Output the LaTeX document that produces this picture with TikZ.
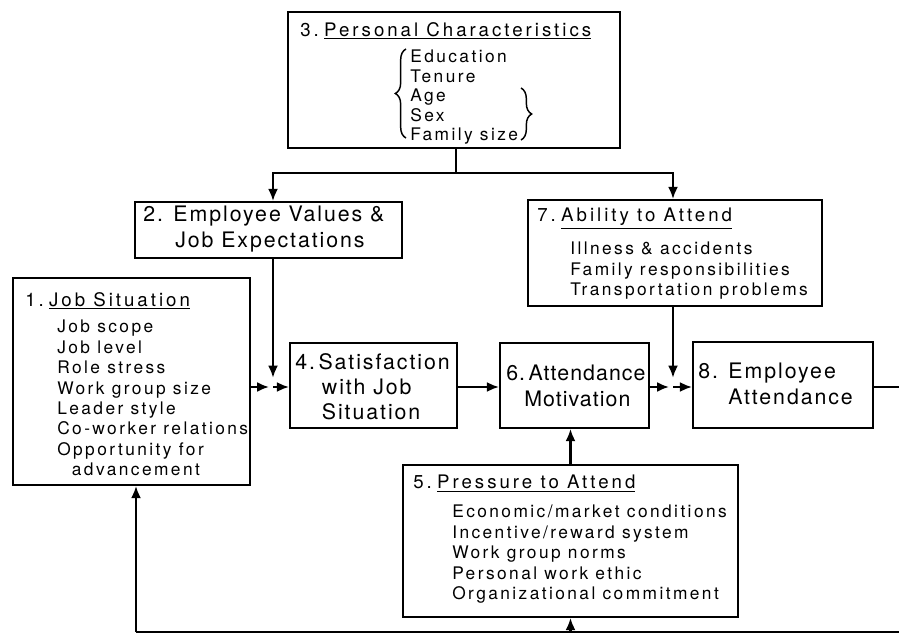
\documentclass[tikz,border=0pt]{standalone}
\usepackage{fontspec}
\setmainfont{TeX Gyre Heros}
\newfontfamily\headfont[LetterSpace=16]{TeX Gyre Heros}
\newfontfamily\listfont[LetterSpace=14]{TeX Gyre Heros}
\newfontfamily\boxfont[LetterSpace=9]{TeX Gyre Heros}
\newfontfamily\tightfont[LetterSpace=5]{TeX Gyre Heros}
\usetikzlibrary{arrows.meta,fit,decorations.pathreplacing}

\newcommand{\numgap}{\hspace{4pt}}

\tikzset{
    frame/.style = {draw=black, line width=1.6pt, inner sep=0pt},
    headtext/.style = {anchor=north west, inner sep=0pt, font=\headfont\fontsize{14}{17}\selectfont},
    listtext/.style = {anchor=north west, inner sep=0pt, align=left, font=\listfont\fontsize{13}{15.3}\selectfont},
    boxtext/.style = {anchor=north west, inner sep=0pt, align=left, font=\boxfont\fontsize{16}{19}\selectfont},
    wire/.style = {line width=1.6pt},
    link/.style = {wire, -{Latex[length=9pt,width=7.5pt]}},
    curly/.style = {line width=1.1pt, decorate, decoration={brace, amplitude=8pt}}
}

\begin{document}
\begin{tikzpicture}[x=0.75pt, y=-0.75pt]
        \useasboundingbox (0,0) rectangle (899,634);
        % NODES
        % node 3: personal characteristics
        \node[frame, fit={(288,12) (620,148)}] (PC) {};
        \node[headtext] (PCt) at (300,22) {3.\numgap\underline{Personal Characteristics}};
        \node[listtext, font=\listfont\fontsize{13}{14.6}\selectfont] (PCl) at (410,50) {Education\\Tenure\\Age\\Sex\\Family size};
        % node 2: employee values
        \node[frame, fit={(135,202) (402,258)}] (EV) {};
        \node[boxtext] (EVt) at (143,206) {2. Employee Values \&\\\hspace*{24pt}Job Expectations};
        % node 7: ability to attend
        \node[frame, fit={(528,200) (822,306)}] (AA) {};
        \node[headtext] (AAt) at (537,208) {7.\numgap\underline{Ability to Attend}};
        \node[listtext] (AAl) at (570,242) {Illness \& accidents\\Family responsibilities\\Transportation problems};
        % node 1: job situation
        \node[frame, fit={(13,278) (250,485)}] (JS) {};
        \node[headtext] (JSt) at (25,292) {1.\numgap\underline{Job Situation}};
        \node[listtext] (JSl) at (57,320) {Job scope\\Job level\\Role stress\\Work group size\\Leader style\\Co-worker relations\\Opportunity for\\\hspace*{11pt}advancement};
        % node 4: satisfaction
        \node[frame, fit={(290,343) (457,428)}] (SJ) {};
        \node[boxtext] (SJt) at (295,353) {4.\,Satisfaction\\\hspace*{20pt}with Job\\\hspace*{20pt}Situation};
        % node 6: attendance motivation
        \node[frame, fit={(500,343) (649,428)}] (AM) {};
        \node[boxtext, font=\tightfont\fontsize{16}{19}\selectfont] (AMt) at (506,365) {6.\,Attendance\\\hspace*{13.5pt}Motivation};
        % node 8: employee attendance
        \node[frame, fit={(693,342) (873,428)}] (EA) {};
        \node[boxtext] (EAt) at (698,363) {8. Employee\\\hspace*{22.5pt}Attendance};
        % node 5: pressure to attend
        \node[frame, fit={(403,465) (738,617)}] (PA) {};
        \node[headtext] (PAt) at (413,475) {5.\numgap\underline{Pressure to Attend}};
        \node[listtext] (PAl) at (452,505) {Economic/market conditions\\Incentive/reward system\\Work group norms\\Personal work ethic\\Organizational commitment};

        % junctions and loose ends
        \coordinate (split) at (456,173);
        \coordinate (J1) at (273,387);
        \coordinate (J2) at (673,387);
        \coordinate (outR) at (899,387);
        \coordinate (botR) at (899,632);
        \coordinate (botL) at (136,632);

        % BRACES
        \draw[curly] (406,138) -- (406,49);
        \draw[curly] (521,88) -- (521,140);

        % ARROWS
        \draw[wire] (PC.south -| split) -- (split);
        \draw[link] (split) -| (EV.north -| J1);
        \draw[link] (split) -| (AA.north -| J2);
        \draw[link, shorten >=7pt] (EV.south -| J1) -- (J1);
        \draw[link, shorten >=3pt] (JS.east |- J1) -- (J1);
        \draw[link] (J1) -- (SJ.west |- J1);
        \draw[link] (SJ.east |- J1) -- (AM.west |- J1);
        \draw[link, shorten >=3pt] (AM.east |- J2) -- (J2);
        \draw[link, shorten >=7pt] (AA.south -| J2) -- (J2);
        \draw[link] (J2) -- (EA.west |- J2);
        \draw[link] (PA.north) -- (PA.north |- AM.south);
        % feedback
        \draw[wire] (EA.east |- outR) -- (outR);
        \draw[wire] (botR) -- (botL);
        \draw[link] (botL) -- (botL |- JS.south);
        \draw[link] (PA.south |- botR) -- (PA.south);
\end{tikzpicture}
\end{document}
